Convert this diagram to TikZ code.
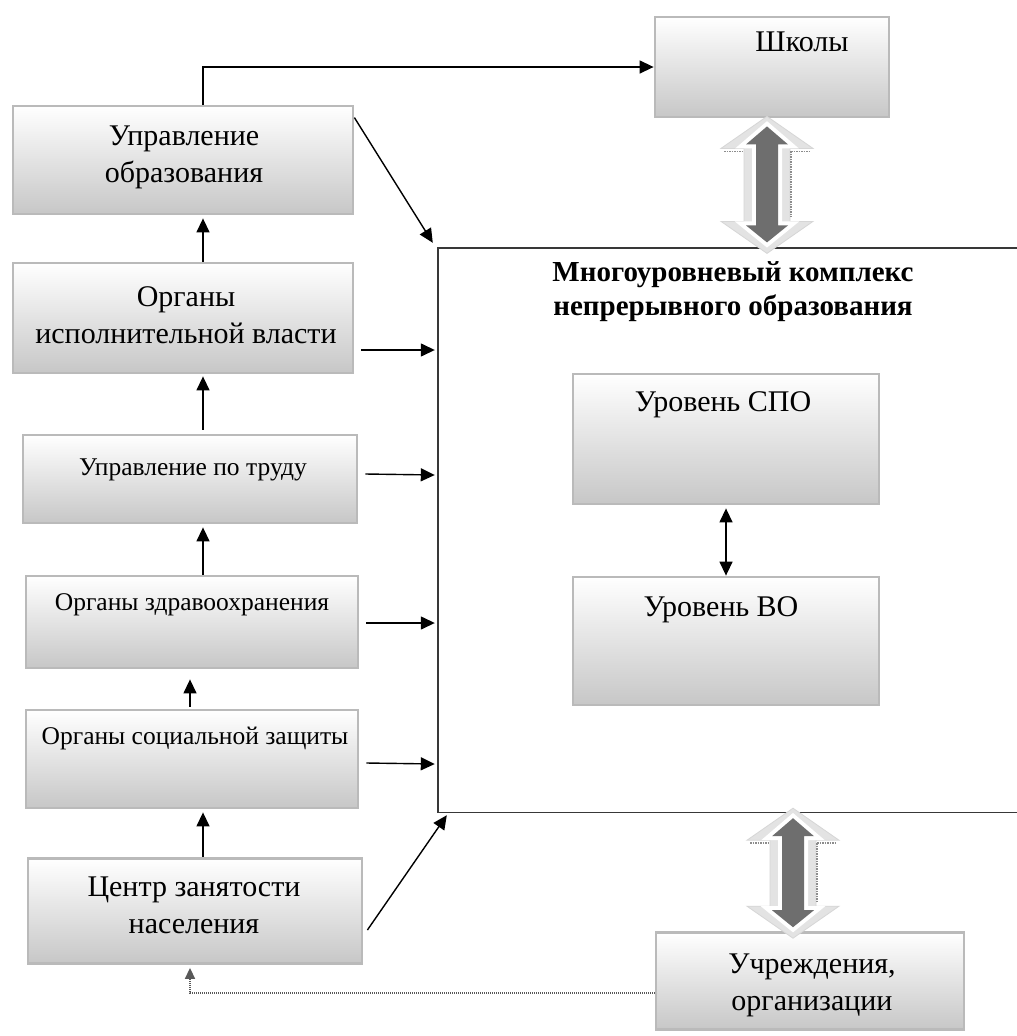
\documentclass[tikz,border=0pt]{standalone}
\usepackage{fontspec}
\setmainfont{Liberation Serif}
\usetikzlibrary{arrows.meta,backgrounds,calc}

\tikzset{
  x=1pt, y=-1pt,
  box/.style={draw=black!27, line width=2.8pt, top color=white, bottom color=black!22,
              inner sep=0pt},
  shade line/.style={draw=black!55, line width=2.5pt, dash pattern=on 3pt off 1pt},
  lbl/.style={font=\fontsize{30}{37}\selectfont, align=center, inner sep=0pt},
  lblsmall/.style={font=\fontsize{25.5}{31}\selectfont, align=center, inner sep=0pt},
  heading/.style={font=\fontsize{29}{34}\selectfont\bfseries, align=center, inner sep=0pt},
  arr/.style={line width=1.4pt, -{Triangle[length=14pt,width=13pt]}},
  twoarr/.style={line width=1.4pt, {Triangle[length=14pt,width=13pt]}-{Triangle[length=14pt,width=13pt]}},
  dotline/.style={draw=black!65, line width=1.5pt, dash pattern=on 1pt off 1pt, -{Triangle[length=11pt,width=10pt]}},
  pics/twoway/.style={code={
    % pale outer double arrow
    \path[fill=black!11, draw=black!16, line width=0.8pt]
      (0,0) -- (46,32) -- (23,32) -- (23,{#1-32}) -- (46,{#1-32}) -- (0,#1)
      -- (-46,{#1-32}) -- (-23,{#1-32}) -- (-23,32) -- (-46,32) -- cycle;
    % soft shadow marks on the outer arrow
    \draw[black!45, line width=1.5pt, dash pattern=on 1.5pt off 1pt]
      (-43,35) -- (-24,35) (24,35) -- (44,35) (24,35) -- (24,{#1-36});
    % dark inner double arrow with a white rim
    \path[fill=black!57, draw=white, line width=8pt, line join=miter]
      (0,10) -- (21,28) -- (11,28) -- (11,{#1-28}) -- (21,{#1-28}) -- (0,{#1-11})
      -- (-21,{#1-28}) -- (-11,{#1-28}) -- (-11,28) -- (-21,28) -- cycle;
    \path[fill=black!57]
      (0,10) -- (21,28) -- (11,28) -- (11,{#1-28}) -- (21,{#1-28}) -- (0,{#1-11})
      -- (-21,{#1-28}) -- (-11,{#1-28}) -- (-11,28) -- (-21,28) -- cycle;
  }}
}

\begin{document}
\begin{tikzpicture}
\useasboundingbox[fill=white] (0,0) rectangle (1017,1036);

% large frame of the complex (its right side runs off the page)
\node[minimum width=579pt, minimum height=564pt, inner sep=0pt] (big) at (727.5,530) {};
\draw[black!78, line width=1.4pt]
  (big.north east) -- (big.north west) -- (big.south west) -- (big.south east);
\node[heading] (ttl) at (733,292) {Многоуровневый комплекс\\непрерывного образования};

% left column of bodies
\node[box, minimum width=340pt, minimum height=108pt] (uo)   at (183,160) {};
\node[box, minimum width=340pt, minimum height=110pt] (oiv)  at (183,318) {};
\node[box, minimum width=334pt, minimum height=88pt]  (upt)  at (190,479) {};
\node[box, minimum width=332pt, minimum height=92pt]  (uz)   at (192,622) {};
\node[box, minimum width=332pt, minimum height=98pt]  (soc)  at (192,759) {};
\node[box, minimum width=334pt, minimum height=105pt] (czn)  at (195,911) {};
% right side
\node[box, minimum width=234pt, minimum height=100pt] (shk)  at (772,67) {};
\node[box, minimum width=308pt, minimum height=97pt]  (uchr) at (810,981) {};
\node[box, minimum width=306pt, minimum height=130pt] (spo)  at (726,439) {};
\node[box, minimum width=306pt, minimum height=128pt] (vo)   at (726,641) {};

% box shadows
\begin{scope}[on background layer]
\foreach \n in {uo,oiv,upt,uz,soc,czn,shk,uchr,spo,vo}
  \draw[shade line] ([xshift=1pt,yshift=-3pt]\n.south west) -- ([xshift=3pt,yshift=-3pt]\n.south east)
                    -- ([xshift=3pt,yshift=-16pt]\n.north east);
\end{scope}

% labels
\node[lbl] (uo-t)   at (184,157) {Управление\\образования};
\node[lbl] (oiv-t)  at (186,315) {Органы\\исполнительной власти};
\node[lblsmall] (upt-t) at (193,470) {Управление по труду};
\node[lblsmall] (uz-t)  at (192,605) {Органы здравоохранения};
\node[lblsmall] (soc-t) at (195,738) {Органы социальной защиты};
\node[lbl] (czn-t)  at (194,905) {Центр занятости\\населения};
\node[lbl] (shk-t)  at (802,42) {Школы};
\node[lbl] (uchr-t) at (812,985) {Учреждения,\\организации};
\node[lbl] (spo-t)  at (723,405) {Уровень СПО};
\node[lbl] (vo-t)   at (721,610) {Уровень ВО};

% guide abscissas for the vertical links
\coordinate (c1) at (203,0);
\coordinate (c2) at (190,0);

% vertical links in the left column
\draw[arr] (oiv.north -| c1) -- ([yshift=-3pt]uo.south -| c1);
\draw[arr] ([yshift=4pt]upt.north -| c1) -- ([yshift=-2pt]oiv.south -| c1);
\draw[arr] (uz.north -| c1) -- ([yshift=-3pt]upt.south -| c1);
\draw[arr] ([yshift=2pt]soc.north -| c2) -- ([yshift=-10pt]uz.south -| c2);
\draw[arr] (czn.north -| c1) -- ([yshift=-3pt]soc.south -| c1);

% link to the schools
\draw[arr] (uo.north -| c1) |- (shk.west);

% links into the complex
\draw[arr] ([yshift=-13pt]uo.north east) -- ([shift={(-5pt,5pt)}]big.north west);
\draw[arr] ([shift={(7pt,-32pt)}]oiv.east) -- ([shift={(-3pt,-32pt)}]oiv.east -| big.west);
\draw[arr] ([shift={(7pt,5pt)}]upt.east) -- ([shift={(-3pt,4pt)}]upt.east -| big.west);
\draw[arr] ([shift={(7pt,-1pt)}]uz.east) -- ([shift={(-3pt,-1pt)}]uz.east -| big.west);
\draw[arr] ([shift={(7pt,-4pt)}]soc.east) -- ([shift={(-3pt,-5pt)}]soc.east -| big.west);
\draw[arr] ([shift={(4pt,-19pt)}]czn.east) -- ([shift={(9pt,-3pt)}]big.south west);

% link between the two levels
\draw[twoarr] ([yshift=-3pt]spo.south) -- (vo.north);

% dotted feedback from institutions to the employment centre
\draw[dotline] ([yshift=-12pt]uchr.west) -| ([yshift=-3pt]czn.south -| c2);

% broad two-way arrows
\coordinate (ta) at (767,0);
\coordinate (tb) at (793,0);
\pic at ([yshift=2pt]shk.south -| ta) {twoway=137};
\pic at ([yshift=4pt]big.south -| tb) {twoway=130};
\end{tikzpicture}
\end{document}
